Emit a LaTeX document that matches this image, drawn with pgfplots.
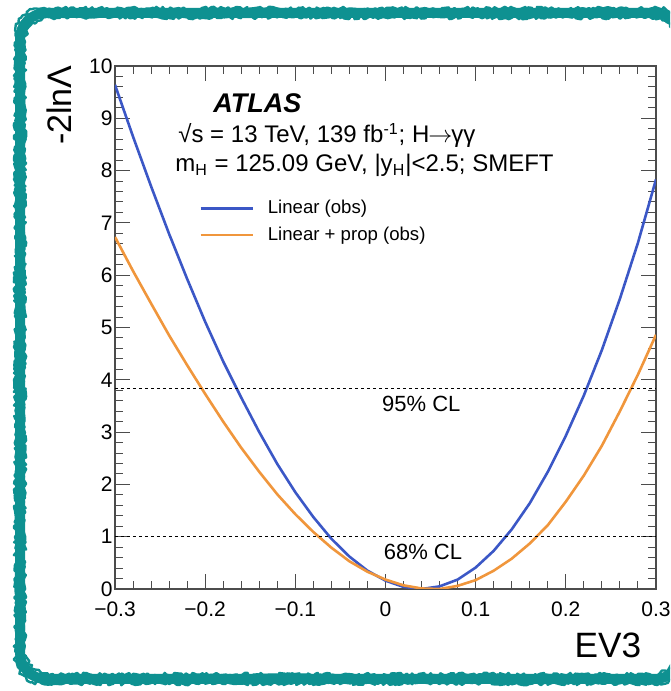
\documentclass[border=0pt]{standalone}
\usepackage{fontspec}
\setmainfont{Liberation Sans}
\usepackage{pgfplots}
\pgfplotsset{compat=1.18}
\usetikzlibrary{decorations.pathmorphing}
\definecolor{frameteal}{RGB}{14,145,145}
\definecolor{cblue}{RGB}{59,87,198}
\definecolor{corange}{RGB}{240,150,60}
\begin{document}
\begin{tikzpicture}
\useasboundingbox (0,0) rectangle (335pt,345.5pt);
\begin{scope}
\clip (0,0) rectangle (335pt,345.5pt);
\draw[frameteal, line width=5pt, rounded corners=13pt] (10pt,6pt) rectangle (340.5pt,339pt);
\draw[frameteal, line width=1.2pt, line join=round, decorate, decoration={random steps, segment length=1.2pt, amplitude=0.9pt}] {[rounded corners=13pt] (7.8pt,3.8pt) rectangle (342.7pt,341.2pt)};
\draw[frameteal, line width=1.2pt, line join=round, decorate, decoration={random steps, segment length=1.2pt, amplitude=0.9pt}] {[rounded corners=13pt] (12.2pt,8.2pt) rectangle (338.3pt,336.8pt)};
\end{scope}
\begin{axis}[
  at={(57.5pt,51pt)}, anchor=south west,
  scale only axis, width=270.5pt, height=261.5pt,
  xmin=-0.3, xmax=0.3, ymin=0, ymax=10,
  xtick={-0.3,-0.2,-0.1,0,0.1,0.2,0.3},
  xticklabels={−0.3,−0.2,−0.1,0,0.1,0.2,0.3},
  ytick={0,1,2,3,4,5,6,7,8,9,10},
  yticklabels={0,1,2,3,4,5,6,7,8,9,10},
  minor x tick num=4, minor y tick num=4,
  tick align=inside,
  major tick length=7.5pt, minor tick length=4pt,
  axis line style={black!70, line width=0.6pt},
  every tick/.style={black!70, line width=0.5pt},
  ticklabel style={font=\fontsize{10.5}{12}\selectfont},
  xticklabel style={yshift=-3pt},
  yticklabel style={inner xsep=1pt},
  legend style={draw=none, fill=none, at={(0.155,0.702)}, anchor=west,
    font=\fontsize{9.3}{11}\selectfont, row sep=3pt, column sep=6pt,
    inner sep=0pt, nodes={inner sep=1pt}},
  legend cell align=left,
  legend image code/.code={\draw[#1] (0pt,0pt) -- (26pt,0pt);},
]
\addplot[cblue, line width=1.3pt] coordinates {
(-0.30,9.64)(-0.28,8.65)(-0.26,7.70)(-0.24,6.79)(-0.22,5.93)(-0.20,5.11)(-0.18,4.35)(-0.16,3.66)(-0.14,3.00)(-0.12,2.39)(-0.10,1.85)(-0.08,1.375)(-0.06,0.96)(-0.04,0.62)(-0.02,0.35)(0.00,0.16)(0.02,0.04)(0.04,0.0)(0.06,0.05)(0.08,0.18)(0.10,0.41)(0.12,0.73)(0.14,1.14)(0.16,1.64)(0.18,2.24)(0.20,2.93)(0.22,3.70)(0.24,4.57)(0.26,5.55)(0.28,6.62)(0.30,7.83)};
\addlegendentry{Linear (obs)}
\addplot[corange, line width=1.3pt] coordinates {
(-0.30,6.73)(-0.28,6.08)(-0.26,5.46)(-0.24,4.85)(-0.22,4.28)(-0.20,3.73)(-0.18,3.20)(-0.16,2.70)(-0.14,2.24)(-0.12,1.81)(-0.10,1.43)(-0.08,1.09)(-0.06,0.79)(-0.04,0.53)(-0.02,0.33)(0.00,0.18)(0.02,0.07)(0.04,0.01)(0.06,0.0)(0.08,0.06)(0.10,0.17)(0.12,0.35)(0.14,0.58)(0.16,0.87)(0.18,1.22)(0.20,1.67)(0.22,2.17)(0.24,2.74)(0.26,3.40)(0.28,4.10)(0.30,4.86)};
\addlegendentry{Linear + prop (obs)}
\addplot[black, line width=0.6pt, dash pattern=on 1.6pt off 1.4pt, forget plot] coordinates {(-0.3,3.84) (0.3,3.84)};
\addplot[black, line width=0.6pt, dash pattern=on 1.6pt off 1.4pt, forget plot] coordinates {(-0.3,1) (0.3,1)};
\end{axis}
\node[anchor=base west, inner sep=0pt, font=\fontsize{13.5}{15}\selectfont\bfseries\itshape] at (106.5pt,289pt) {ATLAS};
\node[anchor=base west, inner sep=0pt, font=\fontsize{12}{14}\selectfont] at (89pt,274pt) {√s = 13 TeV, 139 fb\textsuperscript{-1}; H\kern-0.5pt$\rightarrow$\kern-0.5pt γγ};
\node[anchor=base west, inner sep=0pt, font=\fontsize{12}{14}\selectfont] at (87.5pt,259.6pt) {m\textsubscript{H} = 125.09 GeV, |y\textsubscript{H}|<2.5; SMEFT};
\node[anchor=base west, inner sep=0pt, font=\fontsize{11}{13}\selectfont] at (190.9pt,139.6pt) {95\% CL};
\node[anchor=base west, inner sep=0pt, font=\fontsize{11}{13}\selectfont] at (191.7pt,65.5pt) {68\% CL};
\node[anchor=base east, inner sep=0pt, font=\fontsize{17.6}{20}\selectfont] at (320.8pt,16.5pt) {EV3};
\node[anchor=base east, rotate=90, inner sep=0pt, font=\fontsize{17}{20}\selectfont] at (35.9pt,313pt) {-2lnΛ};
\end{tikzpicture}
\end{document}
